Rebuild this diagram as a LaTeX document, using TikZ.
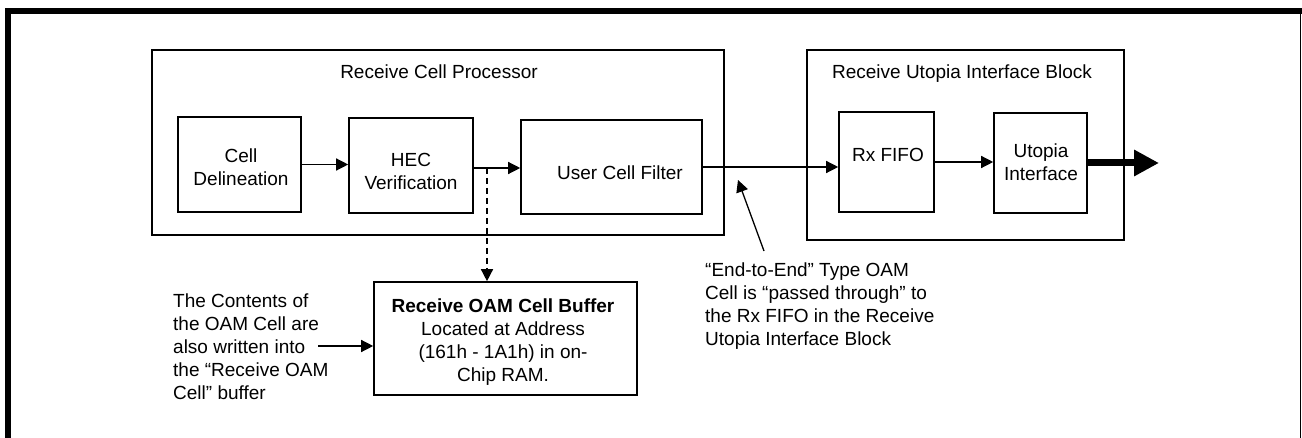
\documentclass[tikz,border=0pt]{standalone}
\usepackage{fontspec}
\setmainfont{Liberation Sans}
\usetikzlibrary{arrows.meta,calc}
\begin{document}
\begin{tikzpicture}[x=1pt,y=-1pt,
  every node/.style={font=\fontsize{19}{23}\selectfont, inner sep=0pt},
  block/.style={draw, line width=1.6pt},
  txt/.style={align=center},
  note/.style={align=left, anchor=west},
  flow/.style={line width=1.3pt, -{Triangle[length=12pt,width=12pt]}},
  dflow/.style={line width=1.4pt, dash pattern=on 6pt off 4pt, -{Triangle[length=12pt,width=12pt]}},
  bigflow/.style={line width=7pt, -{Triangle[length=25pt,width=25pt]}}]
\useasboundingbox (0,0) rectangle (1302,438);

% frame
\draw[line width=6pt] (8,438) -- (8,11) -- (1302,11);
\draw[line width=1.5pt] (1300.5,14) -- (1300.5,438);

% outer blocks
\node[block, minimum width=572pt, minimum height=185pt] (rcp) at (438,142.5) {};
\node (rcpt) at (439,72) {Receive Cell Processor};
\node[block, minimum width=317pt, minimum height=190pt] (rui) at (965.5,145) {};
\node (ruit) at (962,74) {Receive Utopia Interface Block};

% inner blocks
\node[block, minimum width=123pt, minimum height=95pt] (cd) at (239.5,164.5) {};
\node[txt] (cdt) at (241,167) {Cell\\Delineation};
\node[block, minimum width=124pt, minimum height=95pt] (hec) at (411,165.5) {};
\node[txt] (hect) at (411,171) {HEC\\Verification};
\node[block, minimum width=181pt, minimum height=94pt] (ucf) at (611.5,167) {};
\node (ucft) at (620,173) {User Cell Filter};
\node[block, minimum width=95pt, minimum height=100pt] (rx) at (886.5,162) {};
\node (rxt) at (888,155) {Rx FIFO};
\node[block, minimum width=93pt, minimum height=100pt] (ut) at (1040.5,163) {};
\node[txt] (utt) at (1041,162) {Utopia\\Interface};

% OAM buffer
\node[block, minimum width=263pt, minimum height=113pt] (buf) at (505.5,338.5) {};
\node[txt] (buft) at (503,342) {\textbf{Receive OAM Cell Buffer}\\Located at Address\\(161h - 1A1h) in on-\\Chip RAM.};

% notes
\node[note] (lnote) at (173,347) {The Contents of\\the OAM Cell are\\also written into\\the “Receive OAM\\Cell” buffer};
\node[note] (rnote) at (705,306.5) {“End-to-End” Type OAM\\Cell is “passed through” to\\the Rx FIFO in the Receive\\Utopia Interface Block};

% connectors
\draw[flow] (cd.east) -- (cd.east -| hec.west);
\coordinate (tap) at (487,168);
\draw[flow] (hec.east |- tap) -- (tap -| ucf.west);
\draw[dflow] (tap) -- (tap |- buf.north);
\draw[flow] (ucf.east) -- (ucf.east -| rx.west);
\draw[flow] (rx.east) -- (rx.east -| ut.west);
\coordinate (out) at (1159,163);
\draw[bigflow] (ut.east) -- (out);
\coordinate (lsrc) at (318,346);
\draw[flow] (lsrc) -- (lsrc -| buf.west);
\coordinate (rsrc) at (764,251);
\coordinate (rtip) at (738,180);
\draw[flow] (rsrc) -- (rtip);
\end{tikzpicture}
\end{document}
